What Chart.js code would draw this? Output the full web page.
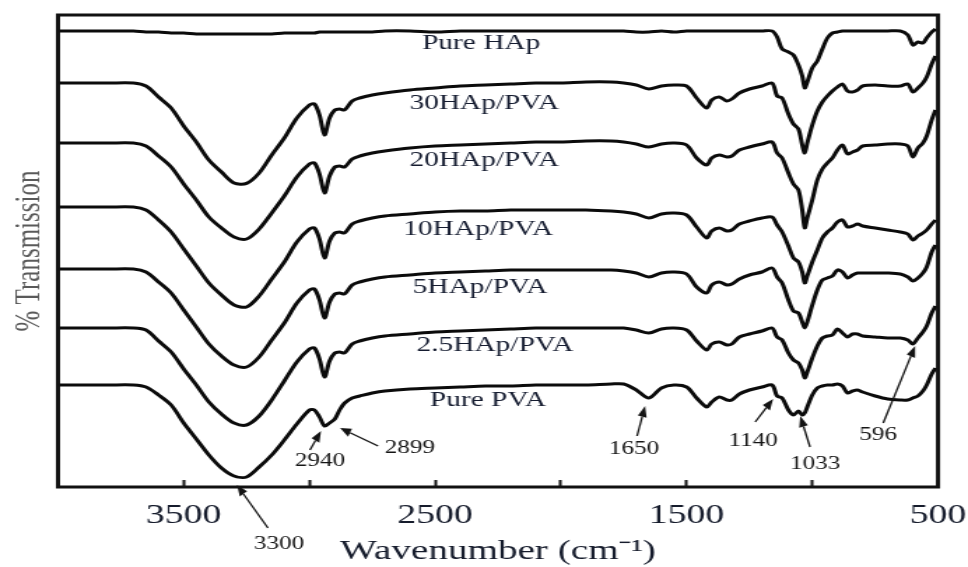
<!DOCTYPE html>
<html>
<head>
<meta charset="utf-8">
<script src="https://cdn.jsdelivr.net/npm/chart.js@4.4.1/dist/chart.umd.min.js"></script>
<style>
html,body{margin:0;padding:0;background:#ffffff;overflow:hidden;}
#wrap{width:692px;height:567px;transform:scaleX(1.398844);transform-origin:0 0;}
canvas{display:block;}
</style>
</head>
<body>
<div id="wrap"><canvas id="chart" width="692" height="567"></canvas></div>
<script>
// ---- data (wavenumber in cm^-1, transmission in arbitrary offset units) ----
const wavenumbers = [
  4000,3900,3800,3700,3650,3600,3550,3500,3450,3400,
  3350,3300,3250,3200,3150,3100,3050,3000,2980,2960,
  2940,2920,2899,2880,2860,2830,2800,2750,2700,2600,
  2500,2400,2300,2200,2100,2000,1900,1800,1750,1700,
  1650,1600,1550,1500,1460,1420,1400,1370,1340,1320,
  1290,1250,1200,1160,1140,1120,1095,1075,1055,1040,
  1030,1020,1000,980,960,940,920,900,880,860,
  840,820,800,750,700,650,620,600,580,560,
  545,525,510
];
const pureHAp = [
  114,114,114,114,113.75,113.75,113.5,113.5,113.25,113.25,
  113.25,113.25,113.25,113.25,113.25,113.5,113.5,113.5,113.5,113.75,
  113.75,113.75,113.75,113.75,113.75,113.75,113.75,113.75,114,114,
  113.75,114,114,114,114,114,114,114,114,113.75,
  113.75,114,113.75,114,114,114,114,114,114,114,
  114,114,114,114,112.5,109.5,108.75,108,105.5,102.75,
  99.75,101.25,104.75,106.5,109.5,112.25,113.5,113.75,114,114,
  114,114,114,114,114,114,113,110.5,111.25,111,
  112.25,113.75,114.5
];
const hap30 = [
  101,101,101,101,100.25,97.5,94.75,90.25,86.25,81.75,
  78.75,76,75.9,78.5,83,87.25,92.25,95.5,95.75,93,
  88,92.25,94.25,94.5,94.25,96.5,97.25,98,98.5,99.25,
  99.75,100.25,100.5,100.75,101,101,101.25,101.25,101,100.5,
  99.5,100.25,100.5,100.25,97.25,94.75,96.75,97.5,96.5,97,
  98.5,99.5,100.25,101,97.75,97.25,93.25,90.75,89.5,85.5,
  83.5,86,90.5,94,96.25,97.75,99,100,100.75,99,
  98.75,99.25,100.25,100.5,100.25,100.25,100.75,98.75,99.75,101,
  102.5,105.75,107.75
];
const hap20 = [
  86,86,86,86,85.25,82.75,80,75.75,71.75,67.5,
  64.75,62.5,62,64.5,68.5,72.75,77.5,80.75,81,78.25,
  73.5,77.75,80,80.25,80,82,82.75,83.5,84,84.75,
  85.25,85.5,85.75,86,86.25,86.25,86.5,86.5,86.25,85.75,
  85,85.75,86,85.5,82.25,80.5,82.25,83,82.5,82.75,
  84.25,85,85.75,86.25,83.5,82.25,78.5,75.75,74.25,69.25,
  64.75,67.25,71.75,76.75,79.5,81,82.25,84.25,85.5,83.25,
  83.75,84.25,85.25,85.5,85.75,85.75,85.25,82.5,84.75,86,
  87.75,91.75,94.25
];
const hap10 = [
  70,70,70,70,69.25,66.75,63.75,59.5,55.25,51,
  48,45.5,45,47.75,52,56.25,61.25,64.5,64.75,62,
  57.25,61.5,63.5,63.75,63.5,65.75,66.5,67.25,67.75,68.25,
  68.75,69,69,69.25,69.25,69.25,69.25,69,68.75,68.25,
  67.25,68.25,68.5,68,65,62.25,64,64.75,64,64.25,
  65.75,66.5,67.25,67.5,65.5,63.75,60.25,57.25,56.25,53.75,
  51,52.75,56.25,59.25,62.25,63.75,64.75,66.25,66.75,65,
  65.25,65.75,65.25,64.75,64.25,63.75,63.25,61.75,62.75,63.5,
  64.25,65.75,66.75
];
const hap5 = [
  54.5,54.5,54.5,54.5,53.75,51.25,48.5,44.25,40,35.75,
  32.75,30.5,30,32.5,36.75,41,46,49.25,49.5,46.75,
  42.25,46.25,48.25,48.5,48.25,50.5,51.25,52,52.5,53,
  53.5,53.75,54,54.25,54.25,54.25,54.25,54.25,54,53.5,
  52.5,53.5,53.75,53.25,50,48.5,50.5,51.25,50.5,50.75,
  52,53,53.75,54.75,52.5,51,46.75,44,43.5,41.25,
  39.75,41.25,45.5,49.25,51.75,52.25,52.75,54.25,53.75,52.25,
  53,53.5,53.5,53.5,53.5,53.25,52.5,51.5,52.25,53.5,
  55,58.75,60.5
];
const hap2_5 = [
  39.75,39.75,39.75,39.75,39.25,36.5,33.75,29.5,25.5,21.25,
  18.25,16,15.5,17.75,21.75,26.5,31.25,34.5,34.75,32,
  27.5,31.5,33.5,33.75,33.5,35.75,36.5,37.25,37.75,38.25,
  38.75,39,39.25,39.5,39.75,39.75,39.75,39.75,39.75,39.25,
  38.5,39.5,39.75,39.25,36.5,34.25,35.75,36.25,35.5,35.75,
  37.5,38.25,39,39.75,37.5,36.75,33.5,31.75,31,29.25,
  27.25,28.75,32.25,35.25,37.25,37.75,38,39.5,38.5,37.5,
  38.25,38.25,37.75,37.5,37.25,37.25,36.75,35.75,37.25,38.75,
  40.25,43.5,45.25
];
const purePVA = [
  25.5,25.5,25.5,25.5,25,23,20.5,16,12,8,
  4.75,2.75,2.5,5,8,11.75,15.75,19.25,19.25,17.5,
  15.25,16,17,19.25,21,22.25,22.75,23.5,24,24.5,
  24.75,25,25.25,25.25,25.5,25.5,25.5,25.75,25.75,24.25,
  22.25,24.75,25.5,25,22.25,20,21.25,22.5,21.75,21.75,
  23.25,24.25,25,25.5,22.75,22.25,19.25,18,19,18,
  18.5,20,23,24.75,25.25,25.5,25.5,25.75,25.25,23.5,
  24,24.25,23.75,22.75,22,21.75,21.75,22.25,22.75,24,
  25.5,28.25,29.75
];
const seriesNames = ['Pure HAp','30HAp/PVA','20HAp/PVA','10HAp/PVA','5HAp/PVA','2.5HAp/PVA','Pure PVA'];
const seriesValues = [pureHAp, hap30, hap20, hap10, hap5, hap2_5, purePVA];
const xTickLabels = [3500, 2500, 1500, 500];
const peakLabels = ['3300','2940','2899','1650','1140','1033','596'];

// ---- layout / style settings ----
const STRETCH = 968 / 692;
const FONT = "'Liberation Serif','Times New Roman',serif";
const PLOT_LEFT = 58 / STRETCH;
const PLOT_RIGHT_GAP = 692 - 938 / STRETCH;
const labelPlacement = {           // [wavenumber, value] of each curve name
  'Pure HAp':[2317,111], '30HAp/PVA':[2305,96], '20HAp/PVA':[2305,81.75], '10HAp/PVA':[2329,64.5],
  '5HAp/PVA':[2321,50], '2.5HAp/PVA':[2262,35.5], 'Pure PVA':[2290,21.75]
};
const peakPlacement = {            // text centre, arrow start, arrow tip
  '3300':{t:[3121,-14.25], a:[3165,-10.25], b:[3288,0.5]},
  '2940':{t:[2958,6.5],   a:[2998,9.25],  b:[2954,14]},
  '2899':{t:[2600,9.75],  a:[2727,10.25], b:[2878,14.75]},
  '1650':{t:[1709,9.5],   a:[1697,12.75], b:[1665,20.25]},
  '1140':{t:[1235,11.5],  a:[1227,16.25], b:[1156,22]},
  '1033':{t:[989,5.75],   a:[1009,10],    b:[1048,17.75]},
  '596': {t:[738,13],     a:[718,16],     b:[591,35.25]}
};

function drawArrow(ctx, x1, y1, x2, y2) {
  const dx = (x2 - x1) * STRETCH, dy = y2 - y1;
  const L = Math.hypot(dx, dy), ux = dx / L, uy = dy / L;
  const hl = 11, hw = 4.5;
  const bx = x2 * STRETCH - ux * hl, by = y2 - uy * hl;
  ctx.beginPath();
  ctx.moveTo(x1, y1);
  ctx.lineTo(bx / STRETCH, by);
  ctx.stroke();
  ctx.beginPath();
  ctx.moveTo(x2, y2);
  ctx.lineTo((bx - uy * hw) / STRETCH, by + ux * hw);
  ctx.lineTo((bx + uy * hw) / STRETCH, by - ux * hw);
  ctx.closePath();
  ctx.fill();
}

const decorPlugin = {
  id: 'decor',
  afterDatasetsDraw(chart) {
    const {ctx, chartArea: ca, scales: {x, y}} = chart;
    ctx.save();
    // frame
    ctx.lineWidth = 3;
    ctx.strokeStyle = '#111111';
    ctx.strokeRect(ca.left, ca.top, ca.right - ca.left, ca.bottom - ca.top);
    // curve names
    ctx.font = '21px ' + FONT;
    ctx.fillStyle = '#151c30';
    ctx.textAlign = 'center';
    ctx.textBaseline = 'middle';
    seriesNames.forEach(n => {
      const p = labelPlacement[n];
      ctx.fillText(n, x.getPixelForValue(p[0]), y.getPixelForValue(p[1]));
    });
    // peak annotations
    ctx.font = '18px ' + FONT;
    ctx.fillStyle = '#141414';
    ctx.strokeStyle = '#141414';
    ctx.lineWidth = 1.3;
    peakLabels.forEach(l => {
      const p = peakPlacement[l];
      ctx.fillText(l, x.getPixelForValue(p.t[0]), y.getPixelForValue(p.t[1]));
      drawArrow(ctx, x.getPixelForValue(p.a[0]), y.getPixelForValue(p.a[1]),
                     x.getPixelForValue(p.b[0]), y.getPixelForValue(p.b[1]));
    });
    ctx.restore();
  }
};

const datasets = seriesValues.map((vals, i) => ({
  label: seriesNames[i],
  data: wavenumbers.map((w, j) => ({x: w, y: vals[j]})),
  borderColor: '#0b0b0b',
  borderWidth: 3,
  pointRadius: 0,
  fill: false,
  tension: 0.3
}));

new Chart(document.getElementById('chart'), {
  type: 'line',
  data: {datasets},
  options: {
    responsive: false,
    animation: false,
    devicePixelRatio: 1,
    layout: {padding: {top: 15, right: 0, bottom: 0, left: 0}},
    plugins: {legend: {display: false}, tooltip: {enabled: false}},
    scales: {
      x: {
        type: 'linear', min: 500, max: 4000, reverse: true,
        afterFit: s => { s.height = 80; s.paddingLeft = 0; s.paddingRight = PLOT_RIGHT_GAP; },
        border: {display: false},
        grid: {display: true, drawOnChartArea: false, drawTicks: true, tickLength: -7, tickWidth: 2, tickColor: '#111111'},
        ticks: {
          stepSize: 500, autoSkip: false, maxRotation: 0, padding: 20,
          font: {family: FONT, size: 27}, color: '#161c2c',
          callback: v => xTickLabels.includes(v) ? String(v) : ''
        },
        title: {
          display: true, text: 'Wavenumber (cm\u207B\u00B9)',
          font: {family: FONT, size: 28, lineHeight: 1}, color: '#161c2c',
          padding: {top: 0, bottom: 1}
        }
      },
      y: {
        type: 'linear', min: 0, max: 118,
        afterFit: s => { s.width = PLOT_LEFT; s.paddingTop = 0; s.paddingBottom = 0; },
        border: {display: false},
        grid: {display: false},
        ticks: {display: false},
        title: {
          display: true, text: '% Transmission',
          font: {family: FONT, size: 25, lineHeight: 1}, color: '#5a5a5a',
          padding: {top: 9, bottom: 0}
        }
      }
    }
  },
  plugins: [decorPlugin]
});
</script>
</body>
</html>
